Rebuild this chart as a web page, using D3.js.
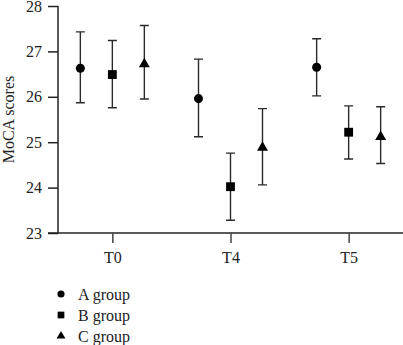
<!DOCTYPE html>
<html>
<head>
<meta charset="utf-8">
<script src="https://cdn.jsdelivr.net/npm/d3@7"></script>
<style>
  body { margin: 0; background: #fff; }
  svg text { font-family: "Liberation Serif", "DejaVu Serif", serif; fill: #222; }
</style>
</head>
<body>
<div id="chart"></div>
<script>
// Data
const timepoints = ["T0", "T4", "T5"];
const groups = ["A group", "B group", "C group"];
const groupShapes = ["circle", "square", "triangle"];
// mean, lower, upper per group per timepoint
const meanA = [26.63, 25.96, 26.65];
const lowA  = [25.87, 25.12, 26.02];
const highA = [27.43, 26.83, 27.28];
const meanB = [26.49, 24.02, 25.22];
const lowB  = [25.76, 23.28, 24.63];
const highB = [27.24, 24.76, 25.80];
const meanC = [26.72, 24.88, 25.12];
const lowC  = [25.95, 24.06, 24.53];
const highC = [27.57, 25.74, 25.78];
const yTicks = [23, 24, 25, 26, 27, 28];

const width = 403, height = 345;
const x0 = 58, x1 = 403, yTop = 6, yBot = 233;

const svg = d3.select("#chart").append("svg")
    .attr("width", width)
    .attr("height", height);

// Scales
const x = d3.scalePoint().domain(timepoints).range([x0, x1]).padding(0.46);
const offset = d3.scalePoint().domain(groups).range([-32, 32]);
const y = d3.scaleLinear().domain([23, 28]).range([yBot, yTop]);

// Y axis
const yAxis = svg.append("g")
    .attr("transform", `translate(${x0},0)`)
    .call(d3.axisLeft(y).tickValues(yTicks).tickSize(10).tickPadding(6).tickFormat(d3.format("d")));
yAxis.select(".domain").attr("stroke", "#222").attr("stroke-width", 1.5).attr("d", `M0,${yTop}V${yBot}`);
yAxis.selectAll(".tick line").attr("stroke", "#222").attr("stroke-width", 1.5);
yAxis.selectAll("text").style("font-size", "16px").attr("fill", "#222");

// X axis
const xAxis = svg.append("g")
    .attr("transform", `translate(0,${yBot})`)
    .call(d3.axisBottom(x).tickSize(10).tickPadding(9));
xAxis.select(".domain").attr("stroke", "#222").attr("stroke-width", 1.5).attr("d", `M${x0 - 10},0H${x1}`);
xAxis.selectAll(".tick line").attr("stroke", "#444").attr("stroke-width", 1.5);
xAxis.selectAll("text").style("font-size", "16px").attr("fill", "#222");

// Y label
svg.append("text")
    .attr("transform", `translate(14,${(yTop + yBot) / 2}) rotate(-90)`)
    .attr("text-anchor", "middle")
    .style("font-size", "16px")
    .text("MoCA scores");

// Marker symbol
function symbolPath(shape, size) {
    const type = shape === "circle" ? d3.symbolCircle
        : shape === "square" ? d3.symbolSquare : d3.symbolTriangle;
    return d3.symbol().type(type).size(size)();
}

const series = [
    { name: groups[0], shape: groupShapes[0], mean: meanA, low: lowA, high: highA },
    { name: groups[1], shape: groupShapes[1], mean: meanB, low: lowB, high: highB },
    { name: groups[2], shape: groupShapes[2], mean: meanC, low: lowC, high: highC }
];

const capW = 4.5;
series.forEach(s => {
    const g = svg.append("g");
    timepoints.forEach((t, i) => {
        const cx = x(t) + offset(s.name);
        // error bar
        g.append("path")
            .attr("d", `M${cx},${y(s.low[i])}V${y(s.high[i])}` +
                `M${cx - capW},${y(s.low[i])}H${cx + capW}` +
                `M${cx - capW},${y(s.high[i])}H${cx + capW}`)
            .attr("stroke", "#2a2a2a")
            .attr("stroke-width", 1.4)
            .attr("fill", "none");
        // marker
        const size = s.shape === "circle" ? 64 : s.shape === "square" ? 78 : 52;
        g.append("path")
            .attr("d", symbolPath(s.shape, size))
            .attr("transform", `translate(${cx},${y(s.mean[i])})`)
            .attr("fill", "#000");
    });
});

// Legend
const legend = svg.append("g").attr("transform", "translate(61,294)");
series.forEach((s, i) => {
    const row = legend.append("g").attr("transform", `translate(0,${i * 21})`);
    const size = s.shape === "circle" ? 40 : s.shape === "square" ? 45 : 34;
    row.append("path").attr("d", symbolPath(s.shape, size)).attr("fill", "#000");
    row.append("text")
        .attr("x", 17)
        .attr("dy", "0.35em")
        .style("font-size", "16px")
        .text(s.name);
});
</script>
</body>
</html>
